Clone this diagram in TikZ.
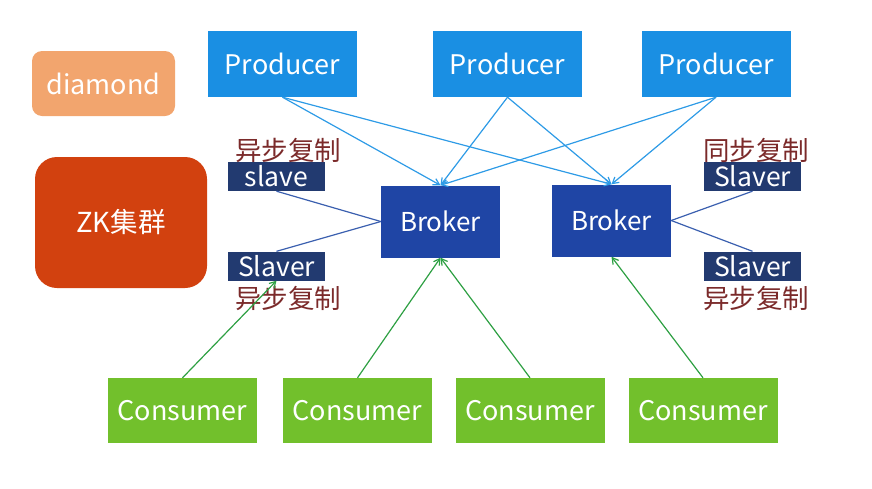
\documentclass[tikz,border=0pt]{standalone}
\usepackage{fontspec}
\setmainfont{Noto Sans CJK SC}
\usetikzlibrary{arrows.meta}
\definecolor{prodc}{HTML}{1A8FE3}
\definecolor{brokc}{HTML}{1F45A5}
\definecolor{slavc}{HTML}{223A70}
\definecolor{consc}{HTML}{72C02C}
\definecolor{diac}{HTML}{F2A56E}
\definecolor{zkc}{HTML}{D2410F}
\definecolor{labc}{HTML}{7B2A2A}
\definecolor{parr}{HTML}{2E9BE6}
\definecolor{sline}{HTML}{3A5FAF}
\definecolor{carr}{HTML}{2EA043}
\tikzset{
  box/.style={draw=none, text=white, inner sep=0pt, font=\fontsize{27}{30}\selectfont},
  prod/.style={box, fill=prodc, minimum width=149pt, minimum height=66pt},
  brok/.style={box, fill=brokc, minimum width=119pt, minimum height=72pt, font=\fontsize{26}{28}\selectfont},
  slv/.style={box, fill=slavc, minimum width=97pt, minimum height=29pt, font=\fontsize{26.5}{28}\selectfont},
  cons/.style={box, fill=consc, minimum width=149pt, minimum height=65pt},
  lab/.style={text=labc, inner sep=0pt, font=\fontsize{26.5}{28}\selectfont},
  parrow/.style={draw=parr, line width=1.2pt, -{Straight Barb[angle=60:7pt]}},
  carrow/.style={draw=carr, line width=1.2pt, -{Straight Barb[angle=60:7pt]}},
  sl/.style={draw=sline, line width=1.2pt}
}
\begin{document}
\begin{tikzpicture}[x=1pt,y=-1pt]
\useasboundingbox (0,0) rectangle (872,488);
\node[box, fill=diac, rounded corners=10pt, minimum width=143pt, minimum height=65pt, font=\fontsize{27}{30}\selectfont] (dia) at (103.5,83.5) {diamond};
\node[box, fill=zkc, rounded corners=22pt, minimum width=172pt, minimum height=131pt, font=\fontsize{27.5}{30}\selectfont] (zk) at (121,222.5) {ZK集群};

\node[prod] (p1) at (282.5,64) {Producer};
\node[prod] (p2) at (507.5,64) {Producer};
\node[prod] (p3) at (716,64) {Producer};

\node[brok] (b1) at (440.5,221.5) {Broker};
\node[brok] (b2) at (611.5,220.5) {Broker};

\node[slv] (s1) at (276.5,176.5) {slave};
\node[slv] (s2) at (276.5,266) {Slaver};
\node[slv] (s3) at (752.5,176.5) {Slaver};
\node[slv] (s4) at (752.5,266) {Slaver};

\node[lab] (l1) at (288,150) {异步复制};
\node[lab] (l2) at (288,298) {异步复制};
\node[lab] (l3) at (756,150) {同步复制};
\node[lab] (l4) at (756,298) {异步复制};

\node[cons] (c1) at (182.5,410.5) {Consumer};
\node[cons] (c2) at (357.5,410.5) {Consumer};
\node[cons] (c3) at (530,410.5) {Consumer};
\node[cons] (c4) at (703,410.5) {Consumer};

\draw[parrow] (p1.south) -- (b1.north);
\draw[parrow] (p1.south) -- (b2.north);
\draw[parrow] (p2.south) -- (b1.north);
\draw[parrow] (p2.south) -- (b2.north);
\draw[parrow] (p3.south) -- (b1.north);
\draw[parrow] (p3.south) -- (b2.north);

\draw[sl] (b1.west) -- (s1.south);
\draw[sl] (b1.west) -- (s2.north);
\draw[sl] (b2.east) -- (s3.south);
\draw[sl] (b2.east) -- (s4.north);

\draw[carrow] (c1.north) -- (s2.south);
\draw[carrow] (c2.north) -- (b1.south);
\draw[carrow] (c3.north) -- (b1.south);
\draw[carrow] (c4.north) -- (b2.south);
\end{tikzpicture}
\end{document}
